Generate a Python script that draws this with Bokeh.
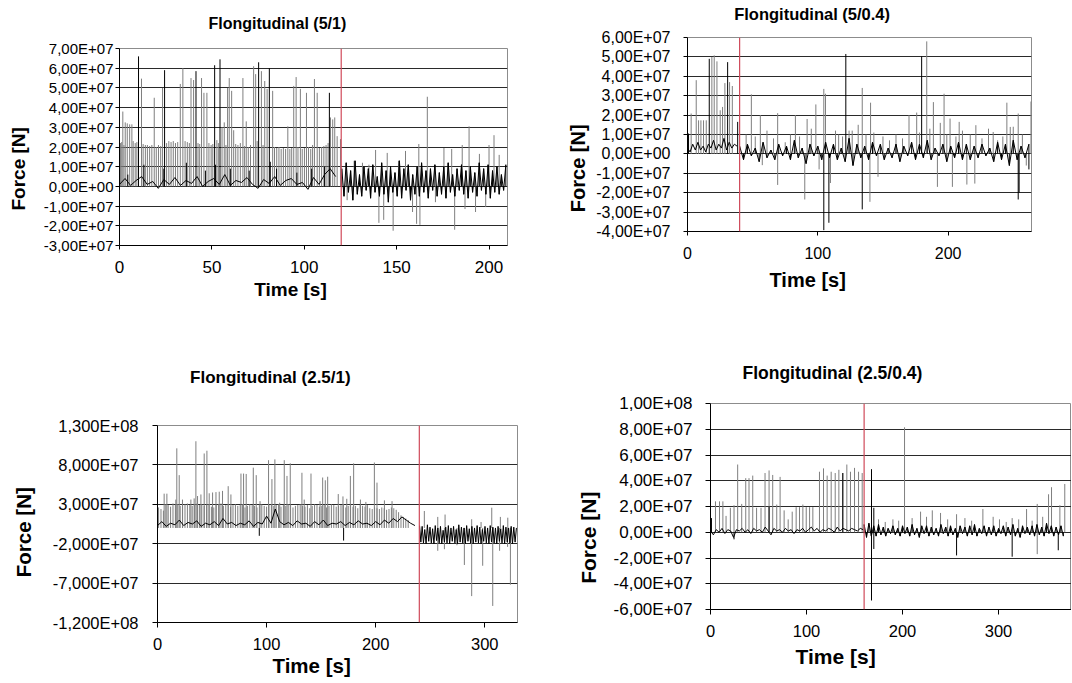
from bokeh.plotting import figure
from bokeh.layouts import column, row
from bokeh.models import Range1d, FixedTicker, Span, Title, LinearAxis
from bokeh.embed import file_html
from bokeh.resources import INLINE

E7 = 1e7          # force values below are given in units of 1e7 N
FONT = "Liberation Sans"
GRAY = "#7f7f7f"
BLACK = "#000000"
RED = "#d04a5a"

# ---------------- Panel 1: Flongitudinal (5/1) ----------------
tl_title = "Flongitudinal  (5/1)"
tl_event = 120
tl_xticks = [0, 50, 100, 150, 200]
tl_yticks = [-3e7, -2e7, -1e7, 0, 1e7, 2e7, 3e7, 4e7, 5e7, 6e7, 7e7]
tl_ylabels = ["-3,00E+07", "-2,00E+07", "-1,00E+07", "0,00E+00", "1,00E+07", "2,00E+07",
              "3,00E+07", "4,00E+07", "5,00E+07", "6,00E+07", "7,00E+07"]
tl_tall_t = [1.8, 3.1, 4.2, 5.5, 6.7, 11.9, 18.8, 23.3, 32.9, 34.3, 38.7, 40.1, 44.4, 45.7, 47.3,
             56.7, 58.5, 59.4, 60.7, 61.8, 66.8, 68.6, 72.6, 73.7, 76.8, 78.6, 79.9, 82.9, 91.1, 94.3,
             95.6, 97.9, 101.2, 105.5, 107.0, 114.2, 115.4, 116.5, 117.8, 119.6]
tl_tall_f = [3.8, 3.25, 3.2, 3.15, 3.15, 5.47, 4.5, 5.0, 5.2, 6.0, 5.5, 5.4, 5.5, 4.75, 4.75,
             3.25, 5.0, 5.5, 4.85, 2.85, 5.5, 3.3, 6.1, 5.7, 5.85, 5.35, 4.95, 4.85, 3.05, 5.1,
             5.55, 4.95, 4.75, 5.45, 4.75, 3.5, 3.4, 3.5, 2.55, 2.4]
tl_band_t = [0.5, 1.2, 2.4, 7.4, 8.5, 9.4, 12.8, 14.0, 15.1, 16.3, 17.5, 19.9, 21.1, 22.3, 25.5,
             26.7, 27.9, 29.1, 30.3, 31.5, 35.5, 36.7, 37.8, 42.5, 43.4, 48.4, 49.6, 50.5, 52.7, 53.5,
             55.5, 57.6, 62.9, 64.1, 65.4, 67.7, 69.7, 70.9, 74.5, 77.7, 83.9, 85.1, 86.3, 87.5, 88.7,
             89.9, 92.2, 93.2, 96.6, 98.9, 100.1, 102.3, 103.5, 104.5, 108.2, 109.4, 110.6, 111.8, 112.9]
tl_band_f = [2.2, 2.25, 2.1, 2.3, 2.2, 2.25, 2.15, 2.1, 2.1, 2.05, 2.1, 2.0, 2.1, 2.05, 2.2,
             2.3, 2.25, 2.3, 2.2, 2.25, 2.3, 2.25, 2.2, 2.2, 2.15, 2.2, 2.1, 2.15, 2.35, 2.2,
             3.0, 2.1, 2.15, 2.1, 2.2, 2.05, 2.0, 2.1, 2.3, 2.1, 2.0, 1.95, 2.0, 1.9, 1.95,
             1.9, 1.9, 1.95, 2.0, 1.9, 1.95, 2.0, 1.9, 2.1, 1.95, 2.0, 2.05, 2.1, 2.2]
tl_black_t = [10.3, 24.4, 41.4, 51.5, 54.4, 75.3, 81.1, 113.6,
              4.5, 13.2, 24.0, 36.2, 46.5, 52.0, 60.0, 70.2, 81.6, 85.0, 96.0, 104.0, 111.0]
tl_black_f = [6.6, 5.9, 5.85, 6.15, 6.45, 6.3, 6.0, 4.75,
              0.6, 1.1, 0.9, 1.2, 0.8, 1.1, 0.9, 0.8, 1.25, 0.9, 0.7, 0.9, 1.0]
tl_post_t = [123.2, 127.0, 131.5, 135.0, 138.6, 140.4, 143.0, 144.9, 148.1, 151.0, 154.8, 158.6,
             160.8, 162.0, 162.6, 166.6, 171.0, 175.6, 179.8, 181.4, 185.5, 187.0, 189.2, 192.7,
             194.8, 198.2, 200.0, 202.7, 205.5]
tl_post_f = [-0.7, 1.3, 1.2, 1.1, 1.85, -1.85, -1.7, 1.7, -2.25, 1.3, 1.8, -1.3, -1.9, 2.15,
             -1.95, 4.55, -0.8, 1.95, 1.9, -2.2, 2.1, -1.15, 3.05, -1.3, 1.65, -1.05, 2.1, 2.6, 1.6]
tl_pre_noise = [0.1, 0.4, 0.05, 0.3, 0.5, 0.1, 0.25, -0.1, 0.35, 0.1,
                0.45, 0.05, 0.3, 0.15, 0.5, 0.0, 0.25, 0.4, 0.1, 0.6,
                0.05, 0.3, 0.2, 0.45, 0.1, -0.1, 0.35, 0.15, 0.5, 0.05,
                0.3, 0.4, 0.1, 0.2, -0.15, 0.45, 0.1, 0.6, 0.9, 0.5]
tl_post_noise = [0.9, -0.5, 1.2, -0.3, 0.8, -0.7, 1.3, -0.4, 0.6, -0.5,
                 1.0, -0.2, 0.9, -0.6, 1.1, -0.3, 0.5, -0.5, 1.2, -0.4,
                 0.8, -0.8, 1.0, -0.3, 0.7, -0.5, 1.3, -0.6, 0.9, -0.2,
                 1.1, -0.7, 0.6, -0.4, 1.0, -0.5, 1.2, -0.3, 0.8, -0.6,
                 0.9, -0.2, 1.1, -0.5, 0.7, -0.4, 1.0, -0.6, 1.2, -0.3,
                 0.6, -0.5, 0.9, -0.2, 1.1, -0.4, 0.8, -0.6, 1.0, -0.3,
                 0.7, -0.5, 1.2, -0.2, 0.9, -0.4, 1.1, -0.6, 0.8, -0.3,
                 1.0, -0.4, 0.6, -0.2, 1.1]

# ---------------- Panel 2: Flongitudinal (5/0.4) ----------------
tr_title = "Flongitudinal  (5/0.4)"
tr_event = 40
tr_xticks = [0, 100, 200]
tr_yticks = [-4e7, -3e7, -2e7, -1e7, 0, 1e7, 2e7, 3e7, 4e7, 5e7, 6e7]
tr_ylabels = ["-4,00E+07", "-3,00E+07", "-2,00E+07", "-1,00E+07", "0,00E+00", "1,00E+07",
              "2,00E+07", "3,00E+07", "4,00E+07", "5,00E+07", "6,00E+07"]
tr_gray_t = [2.8, 6.7, 8.5, 10.3, 12.3, 14.4, 18.7, 20.5, 22.6, 25.1, 26.9, 28.7, 32.3, 34.4, 49.0,
             55.9, 57.4, 69.2, 69.2, 82.8, 90.0, 91.8, 98.5, 104.6, 105.9, 109.7, 113.6, 126.4, 134.1,
             140.0, 140.5, 146.2, 170.0, 175.9, 183.6, 188.7, 191.8, 196.9, 201.5, 203.3, 208.5,
             214.4, 220.5, 221.3, 234.6, 245.1, 247.7, 253.8, 263.6,
             45, 52, 61, 66, 75, 79, 86, 95, 101, 116, 119, 124, 131, 137, 143, 150, 155, 160, 165,
             178, 186, 194, 199, 206, 211, 217, 226, 231, 238, 242, 250, 257, 260]
tr_gray_f = [2.08, 3.8, 1.73, 1.73, 1.73, 1.73, 5.0, 5.08, 4.77, 2.25, 2.42, 3.65, 3.7, 3.5, 3.07,
             2.0, -0.58, 2.1, -1.6, 2.0, -2.35, 1.8, 2.55, 3.35, 3.1, -1.5, 1.2, 1.2, 3.4,
             -2.47, 2.64, -1.18, 2.0, 2.13, 5.8, 2.67, -1.7, 3.1, 1.82, -1.7, 1.65,
             -1.58, -1.53, 1.48, 1.13, 2.64, 1.39, 2.08, 2.7,
             1.0, 0.9, 1.2, 0.8, 0.6, 1.0, 0.9, 1.3, -0.8, 1.0, 0.9, 1.2, 1.5, 1.0, 1.1, 0.9, 0.7, 1.0,
             0.8, 1.1, 1.3, 1.6, 1.0, 0.9, 1.2, 1.0, 0.8, 1.3, 0.7, 0.9, 1.4, 1.0, -0.6]
tr_black_t = [0.8, 16.7, 30.8, 38.5, 104.6, 108.5, 121.5, 134.1, 179.7, 253.8, 254.5, 262.0]
tr_black_f = [1.05, 4.9, 4.73, 1.65, -3.93, -3.55, 5.15, -2.86, 5.03, -2.35, -2.0, -0.8]
tr_pre_noise = [0.3, 0.1, 0.5, 0.2, 0.6, 0.2, 0.4, 0.1, 0.5, 0.3,
                0.7, 0.2, 0.5, 0.3, 0.8, 0.2, 0.6, 0.3, 0.5, 0.4]
tr_post_noise = [0.4, -0.3, 0.5, -0.1, 0.3, -0.4, 0.6, -0.2, 0.2, -0.3,
                 0.5, -0.1, 0.4, -0.3, 0.7, -0.2, 0.3, -0.5, 0.5, -0.1,
                 0.4, -0.3, 0.6, -0.2, 0.5, -0.3, 0.3, -0.4, 0.8, -0.6,
                 0.5, -0.2, 0.4, -0.3, 0.6, -0.1, 0.5, -0.3, 0.3, -0.2,
                 0.5, -0.4, 0.4, -0.1, 0.6, -0.3, 0.5, -0.2, 0.7, -0.3,
                 0.3, -0.1, 0.5, -0.4, 0.4, -0.2, 0.6, -0.3, 0.5, -0.3,
                 0.4, -0.2, 0.5, -0.1, 0.3, -0.4, 0.6, -0.3, 0.5, -0.6,
                 0.7, -0.3, 0.4, -0.2, 0.5]

# ---------------- Panel 3: Flongitudinal (2.5/1) ----------------
bl_title = "Flongitudinal  (2.5/1)"
bl_event = 240
bl_xticks = [0, 100, 200, 300]
bl_yticks = [-1.2e8, -7e7, -2e7, 3e7, 8e7, 1.3e8]
bl_ylabels = ["-1,200E+08", "-7,000E+07", "-2,000E+07", "3,000E+07", "8,000E+07", "1,300E+08"]
bl_gray_t = [6.1, 17.7, 19.9, 35.2, 42.8, 45.3, 76.5, 78.9, 81.3, 87.8, 90.5, 101.8, 104.9, 107.6,
             116.2, 118.7, 121.7, 132.4, 140.7, 151.4, 153.8, 156.0, 165.7, 176.8, 179.8, 198.8, 201.2,
             8.6, 16.8, 22.9, 30.6, 33.6, 36.7, 39.8, 47.4, 50.5, 53.6, 56.6, 59.6, 64.8, 67.3, 94.0,
             112.0, 134.5, 149.0, 170.0, 173.5, 186.0, 191.0, 208.0, 215.0,
             244.6, 256.9, 263.6, 288.0, 296.6, 306.4, 314.3, 321.1, 256.9, 263.0, 274.5, 281.3,
             288.0, 298.1, 307.3, 313.6, 320.9, 323.5]
bl_gray_f = [4.35, 10.1, 6.7, 11.0, 9.45, 9.8, 6.9, 6.9, 6.85, 7.65, 6.7, 8.6, 6.2, 8.7,
             8.6, 6.6, 8.2, 7.0, 6.9, 6.4, 6.05, 6.5, 4.3, 6.6, 8.2, 8.3, 5.75,
             4.35, 3.6, 3.6, 3.6, 3.75, 4.05, 4.25, 4.4, 4.5, 4.55, 4.6, 4.7, 5.3, 4.25, 3.4,
             3.2, 3.6, 3.4, 4.0, 3.7, 3.6, 3.3, 3.5, 3.4,
             2.15, 1.4, 1.7, 1.1, 0.75, 2.57, 1.4, 1.3, -2.9, -2.7, -2.2, -4.7,
             -8.65, -4.8, -9.9, -2.9, -2.4, -7.2]
bl_band = [2.6, 2.4, 2.2, 3.0, 2.9, 2.7, 3.1, 2.9, 3.0, 2.8,
           2.9, 3.0, 3.1, 2.9, 2.8, 3.0, 3.1, 2.9, 3.0, 2.8,
           2.9, 3.0, 2.7, 2.6, 2.9, 3.0, 3.1, 2.8, 2.9, 3.0,
           2.7, 2.9, 3.0, 2.8, 2.9, 3.0, 2.6, 2.8, 3.0, 2.9,
           2.8, 2.6, 2.9, 3.0, 2.8, 2.7, 2.9, 3.0, 2.8, 2.9,
           3.0, 2.7, 2.9, 2.8, 3.0, 2.9, 2.6, 2.8, 2.9, 3.0,
           2.8, 2.7, 2.9, 2.5, 2.8, 3.0, 2.9, 2.7, 2.8, 2.9,
           2.6, 2.8, 3.0, 2.9, 2.7, 2.8, 2.9, 3.0, 2.6, 2.8,
           2.9, 2.7, 2.8, 2.5, 2.9, 2.8, 2.7, 2.9, 2.5, 2.4,
           2.6, 2.5, 2.4, 2.6, 2.5, 2.3, 2.4, 2.6, 2.5, 2.3,
           2.0, 1.6, 1.4, 1.2, 1.0]
bl_black_t = [93.3, 170.6]
bl_black_f = [-1.0, -1.6]
bl_pre_noise = [0.3, 0.8, 0.2, 0.6, 0.4, 1.0, 0.3, 0.7, 0.5, 0.9,
                0.2, 0.6, 0.4, 0.8, 0.3, 1.2, 0.5, 0.7, 0.3, 0.6,
                0.4, 0.9, 0.2, 0.7, 0.5, 1.5, 0.6, 2.4, 0.8, 0.4,
                0.7, 0.3, 0.9, 0.5, 0.6, 0.2, 0.8, 0.4, 1.0, 0.3,
                0.6, 0.5, 0.8, 0.3, 0.7, 0.4, 0.9, 0.5, 0.6, 0.3,
                0.8, 0.4, 1.0, 0.6, 1.2, 0.8, 1.4, 1.0, 0.6, 0.3]
bl_post_noise = [0.3, -1.8, 0.2, -1.9, -0.2, -2.0, 0.4, -1.7, 0.1, -1.9,
                 -0.1, -2.0, 0.3, -1.6, 0.0, -1.9, 0.2, -2.0, -0.3, -1.8,
                 0.1, -1.9, 0.3, -2.0, 0.0, -1.7, 0.2, -1.9, -0.2, -2.0,
                 0.4, -1.8, 0.1, -1.9, 0.0, -2.0, 0.3, -1.7, -0.1, -1.9,
                 0.2, -2.0, 0.0, -1.8, 0.3, -1.9, 0.1, -2.0, -0.2, -1.7,
                 0.2, -1.9, 0.0, -2.0, 0.3, -1.8, 0.1, -1.9, 0.0, -2.0,
                 0.2, -1.7, -0.1, -1.9, 0.3, -2.0, 0.1, -1.8, 0.0, -1.9,
                 0.2, -2.0, 0.1, -1.8, 0.0]

# ---------------- Panel 4: Flongitudinal (2.5/0.4) ----------------
br_title = "Flongitudinal  (2.5/0.4)"
br_event = 160
br_xticks = [0, 100, 200, 300]
br_yticks = [-6e7, -4e7, -2e7, 0, 2e7, 4e7, 6e7, 8e7, 1e8]
br_ylabels = ["-6,00E+07", "-4,00E+07", "-2,00E+07", "0,00E+00", "2,00E+07", "4,00E+07",
              "6,00E+07", "8,00E+07", "1,00E+08"]
br_gray_t = [5.2, 9.4, 12.9, 16.2, 20.7, 24.5, 28.3, 32.5, 36.7, 40.1, 44.0, 48.0, 52.6, 56.8,
             61.0, 64.8, 69.0, 72.5, 76.7, 80.9, 85.1, 89.2, 92.7, 96.2, 99.7, 103.2, 106.6, 113.5,
             117.7, 121.5, 125.7, 129.9, 133.7, 137.8, 142.0, 145.8, 150.0, 154.2, 158.0,
             202.1, 218.8, 231.0, 239.6, 256.3, 283.7, 294.4, 314.2, 329.2, 340.3, 340.3, 352.1,
             355.2, 363.9, 369.0, 175.0, 182.0, 190.0, 196.0, 210.0, 225.0, 247.0, 265.0, 272.0,
             301.0, 308.0, 321.0, 335.0, 346.0]
br_gray_f = [2.4, 2.4, 2.4, 1.27, 1.9, 2.1, 5.26, 2.2, 4.2, 4.2, 4.4, 1.9, 1.9, 4.6,
             4.8, 4.45, 2.15, 4.3, 1.7, 1.0, 1.6, 1.95, 1.95, 2.15, 1.95, 1.95, 1.95, 4.7,
             4.96, 4.4, 4.7, 4.6, 4.85, 4.6, 5.26, 4.7, 5.0, 4.7, 4.6,
             8.15, 1.6, 1.7, 1.5, 1.4, 1.8, 1.2, 1.1, 1.8, 2.2, -1.7, 2.95,
             3.5, 2.1, 3.75, 1.0, 0.8, 1.0, 0.9, 1.1, 1.2, 1.0, 1.1, 0.9,
             1.0, 0.8, 1.0, 0.9, 1.2]
br_black_t = [1.0, 24.5, 61.0, 137.8, 167.7, 167.7, 170.1, 170.1, 314.2, 256.3, 362.2]
br_black_f = [1.1, -0.55, 2.0, 4.6, 4.9, -5.3, 1.9, -1.3, -1.9, -1.8, -1.4]
br_pre_noise = [0.1, -0.2, 0.2, 0.0, 0.3, -0.1, 0.2, 0.1, -0.4, 0.2,
                0.1, 0.3, 0.0, 0.2, -0.1, 0.3, 0.1, 0.2, 0.0, 0.4,
                0.1, -0.2, 0.3, 0.1, 0.2, 0.0, 0.3, 0.1, 0.2, -0.1,
                0.2, 0.1, 0.3, 0.0, 0.2, 0.4, 0.1, 0.3, 0.0, 0.2,
                0.1, 0.3, 0.2, 0.0, 0.4, 0.1, 0.3, 0.2, 0.1, 0.3,
                0.2, 0.1, 0.3, 0.2]
br_post_noise = [0.6, -0.4, 0.7, -0.3, 0.5, -0.3, 0.6, -0.2, 0.4, -0.3,
                 0.3, -0.1, 0.5, -0.2, 0.3, -0.3, 0.5, -0.1, 0.4, -0.3,
                 0.6, -0.2, 0.3, -0.4, 0.5, -0.1, 0.5, -0.3, 0.4, -0.2,
                 0.3, -0.3, 0.6, -0.1, 0.4, -0.3, 0.5, -0.2, 0.3, -0.4,
                 0.5, -0.1, 0.4, -0.3, 0.5, -0.2, 0.6, -0.3, 0.3, -0.1,
                 0.5, -0.3, 0.4, -0.2, 0.5, -0.3, 0.3, -0.1, 0.5, -0.3,
                 0.4, -0.2, 0.6, -0.3, 0.3, -0.4, 0.5, -0.1, 0.4, -0.2,
                 0.5, -0.3, 0.6, -0.2, 0.4, -0.3, 0.7, -0.1, 0.5, -0.3,
                 0.4, -0.2, 0.5, -0.3]


def grid_times(t0, step, vals):
    return [t0 + step * i for i in range(len(vals))]


def pair(t, f):
    n = min(len(t), len(f))
    return list(t[:n]), list(f[:n])


def spacer_axis(size, at):
    # a blank axis (white tick, empty label) used only to reserve space in a side panel
    return LinearAxis(ticker=FixedTicker(ticks=[at]), major_tick_out=int(round(size)),
                      major_tick_in=0, minor_tick_out=0, minor_tick_in=0,
                      axis_line_color=None, major_tick_line_color="white",
                      minor_tick_line_color=None, major_label_standoff=0,
                      major_label_text_font_size="1px", major_label_text_color="white",
                      major_label_overrides={at: ""})


def make_panel(cfg):
    p = figure(width=cfg["w"], height=cfg["h"],
               x_range=Range1d(*cfg["xr"]), y_range=Range1d(*cfg["yr"]),
               output_backend="svg", toolbar_location=None, title=None,
               min_border_left=cfg["ml"], min_border_right=cfg["mr"],
               min_border_top=cfg["mt"], min_border_bottom=cfg["mb"])
    p.frame_align = False
    p.background_fill_color = "white"
    p.border_fill_color = "white"
    p.outline_line_color = "#8c8c8c"
    p.xgrid.visible = False
    p.ygrid.ticker = FixedTicker(ticks=cfg["yticks"])
    p.ygrid.grid_line_color = "#2a2a2a"
    p.ygrid.grid_line_width = 1

    ya = p.yaxis[0]
    ya.ticker = FixedTicker(ticks=cfg["yticks"])
    ya.major_label_overrides = {int(v): s for v, s in zip(cfg["yticks"], cfg["ylabels"])}
    xa = p.xaxis[0]
    xa.ticker = FixedTicker(ticks=cfg["xticks"])
    for ax in (xa, ya):
        ax.axis_line_color = BLACK
        ax.major_tick_line_color = BLACK
        ax.minor_tick_line_color = None
        ax.major_tick_in = 0
        ax.major_tick_out = cfg["tick_out"]
        ax.major_label_text_font = FONT
        ax.major_label_text_color = BLACK
    ya.major_label_text_font_size = f'{cfg["yfs"]}px'
    ya.major_label_standoff = cfg["ystand"]
    xa.major_label_text_font_size = f'{cfg["xfs"]}px'
    xa.major_label_standoff = cfg["xstand"]

    gt, gf = cfg["gray"]
    p.segment(x0=gt, y0=[0] * len(gt), x1=gt, y1=[v * E7 for v in gf],
              line_color=GRAY, line_width=1)
    for nt, nf in cfg["lines"]:
        p.line(nt, [v * E7 for v in nf], line_color=BLACK, line_width=1)
    for nt, nf in cfg["needles"]:
        p.segment(x0=nt, y0=[0] * len(nt), x1=nt, y1=[v * E7 for v in nf],
                  line_color=BLACK, line_width=1)
    bt, bf = cfg["black"]
    p.segment(x0=bt, y0=[0] * len(bt), x1=bt, y1=[v * E7 for v in bf],
              line_color=BLACK, line_width=1)

    p.add_layout(Span(location=cfg["event"], dimension="height", line_color=RED, line_width=1.2))

    def ttl(text, size, offset, valign):
        return Title(text=text, text_font=FONT, text_font_size=f"{size}px",
                     text_font_style="bold", text_color=BLACK, align="left",
                     offset=offset, standoff=0, vertical_align=valign)

    x0 = cfg["xr"][0]
    y0 = cfg["yr"][0]
    # main title (above the frame)
    if cfg["gap_top"] > 0:
        p.add_layout(spacer_axis(cfg["gap_top"], x0), "above")
    p.add_layout(ttl(cfg["title"], cfg["tfs"], cfg["toff"], "bottom"), "above")
    # x axis title
    if cfg["gap_bottom"] > 0:
        p.add_layout(spacer_axis(cfg["gap_bottom"], x0), "below")
    p.add_layout(ttl("Time [s]", cfg["lfs"], cfg["xoff"], "top"), "below")
    # y axis title
    if cfg["gap_left"] > 0:
        p.add_layout(spacer_axis(cfg["gap_left"], y0), "left")
    p.add_layout(ttl("Force [N]", cfg["lfs"], cfg["yoff"], "bottom"), "left")
    return p


tl = make_panel(dict(
    w=540, h=330, ml=119, mr=33, mt=48, mb=85, xr=(0, 210), yr=(-3e7, 7e7),
    xticks=tl_xticks, yticks=tl_yticks, ylabels=tl_ylabels, event=tl_event,
    gray=pair(tl_tall_t + tl_band_t + tl_post_t, tl_tall_f + tl_band_f + tl_post_f),
    black=pair(tl_black_t, tl_black_f),
    lines=[(grid_times(0, 3, tl_pre_noise), tl_pre_noise),
           (grid_times(120.3, 1.2, tl_post_noise), tl_post_noise)],
    needles=[(grid_times(120.3, 1.2, tl_post_noise), tl_post_noise)],
    tick_out=4, yfs=15, ystand=2, xfs=17, xstand=11,
    title=tl_title, tfs=16, lfs=19, toff=89, xoff=134.7, yoff=35,
    gap_top=17, gap_bottom=3, gap_left=12))

tr = make_panel(dict(
    w=532, h=330, ml=147, mr=41, mt=37, mb=99, xr=(0, 264), yr=(-4e7, 6e7),
    xticks=tr_xticks, yticks=tr_yticks, ylabels=tr_ylabels, event=tr_event,
    gray=pair(tr_gray_t, tr_gray_f), black=pair(tr_black_t, tr_black_f),
    lines=[(grid_times(0, 2, tr_pre_noise), tr_pre_noise),
           (grid_times(40, 3, tr_post_noise), tr_post_noise)],
    needles=[(grid_times(40, 3, tr_post_noise), tr_post_noise)],
    tick_out=4, yfs=16, ystand=13, xfs=16, xstand=11,
    title=tr_title, tfs=16.5, lfs=20, toff=46.7, xoff=82, yoff=19.3,
    gap_top=15, gap_bottom=7, gap_left=5))

bl = make_panel(dict(
    w=540, h=352, ml=157, mr=23, mt=95, mb=60, xr=(0, 330), yr=(-1.2e8, 1.3e8),
    xticks=bl_xticks, yticks=bl_yticks, ylabels=bl_ylabels, event=bl_event,
    gray=pair(bl_gray_t + grid_times(1, 2.2, bl_band), bl_gray_f + bl_band),
    black=pair(bl_black_t, bl_black_f),
    lines=[(grid_times(0, 4, bl_pre_noise), bl_pre_noise),
           (grid_times(240.2, 1.2, bl_post_noise), bl_post_noise)],
    needles=[],
    tick_out=5, yfs=16.5, ystand=14, xfs=16.5, xstand=10,
    title=bl_title, tfs=17, lfs=20.5, toff=32.6, xoff=115, yoff=45.3,
    gap_top=39, gap_bottom=1, gap_left=15))

br = make_panel(dict(
    w=531, h=352, ml=170, mr=0, mt=73, mb=73, xr=(0, 376), yr=(-6e7, 1e8),
    xticks=br_xticks, yticks=br_yticks, ylabels=br_ylabels, event=br_event,
    gray=pair(br_gray_t, br_gray_f), black=pair(br_black_t, br_black_f),
    lines=[(grid_times(0, 3, br_pre_noise), br_pre_noise),
           (grid_times(160, 2.5, br_post_noise), br_post_noise)],
    needles=[(grid_times(160, 2.5, br_post_noise), br_post_noise)],
    tick_out=5, yfs=17, ystand=13, xfs=16.5, xstand=10,
    title=br_title, tfs=17.5, lfs=21, toff=32, xoff=85, yoff=25.7,
    gap_top=21, gap_bottom=5, gap_left=11))

layout = column(row(tl, tr, spacing=0), row(bl, br, spacing=0), spacing=0)
open("out.html", "w").write(file_html(layout, INLINE))
